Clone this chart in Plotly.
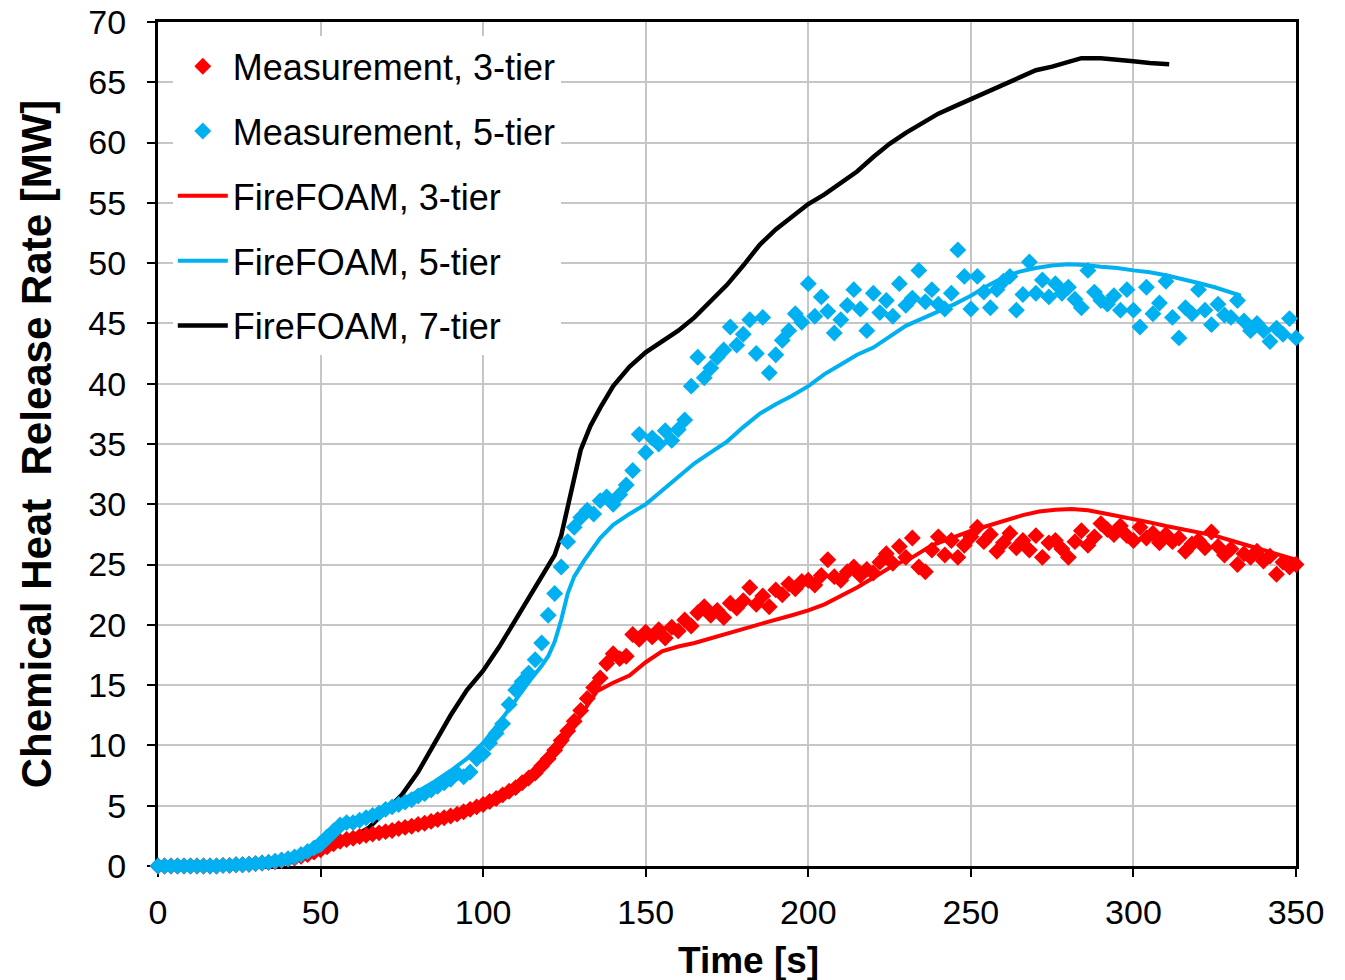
import plotly.graph_objects as go

# ---- measured chemical heat release rate (sampled every 2 s) ----
meas_time = list(range(0, 351, 2))

meas_3tier = [
    0, 0, 0, 0, 0, 0, 0, 0, 0, 0,
    0.05, 0.05, 0.1, 0.1, 0.15, 0.2, 0.25, 0.3, 0.35, 0.45,
    0.55, 0.65, 0.8, 0.95, 1.15, 1.35, 1.6, 1.85, 2.05, 2.2,
    2.3, 2.45, 2.55, 2.65, 2.75, 2.85, 2.95, 3.1, 3.2, 3.3,
    3.45, 3.55, 3.7, 3.85, 4.0, 4.15, 4.3, 4.5, 4.7, 4.9,
    5.1, 5.35, 5.6, 5.9, 6.2, 6.5, 6.9, 7.3, 7.7, 8.3,
    8.9, 9.6, 10.4, 11.2, 12.0, 12.9, 13.9, 14.8, 15.6, 16.8,
    17.6, 17.2, 17.4, 19.2, 18.8, 19.4, 19.0, 19.6, 18.9, 19.8,
    19.5, 20.4, 19.9, 21.0, 21.5, 20.8, 21.2, 20.6, 21.8, 21.4,
    22.0, 23.1, 21.7, 22.4, 21.5, 22.9, 22.5, 23.4, 23.0, 23.6,
    23.7, 23.3, 24.1, 25.4, 24.0, 23.7, 24.4, 24.8, 24.1, 24.6,
    24.3, 25.2, 25.9, 25.1, 26.5, 25.6, 27.2, 24.8, 24.4, 26.2,
    27.3, 25.8, 27.0, 25.6, 26.6, 27.3, 28.1, 26.9, 27.5, 26.1,
    26.8, 27.6, 26.4, 27.0, 26.2, 27.4, 25.6, 26.8, 27.0, 26.3,
    25.6, 26.9, 27.8, 26.6, 27.3, 28.4, 27.9, 27.5, 28.2, 27.4,
    27.0, 28.1, 27.2, 27.6, 26.8, 27.5, 26.9, 27.2, 26.1, 26.7,
    27.0, 26.4, 27.7, 26.5, 25.8, 26.3, 25.0, 25.9, 25.6, 26.1,
    25.3, 25.7, 24.2, 25.2, 24.8, 25.0,
]

meas_5tier = [
    0, 0, 0, 0, 0, 0, 0, 0, 0, 0,
    0.05, 0.05, 0.1, 0.1, 0.15, 0.2, 0.25, 0.3, 0.4, 0.5,
    0.6, 0.75, 0.95, 1.2, 1.5, 1.9, 2.4, 2.9, 3.4, 3.6,
    3.6, 3.8, 4.0, 4.2, 4.4, 4.7, 4.9, 5.1, 5.3, 5.5,
    5.8, 6.0, 6.3, 6.6, 6.9, 7.2, 7.7, 7.4, 7.8, 8.9,
    9.3, 10.2, 11.0, 11.8, 13.4, 14.6, 15.3, 16.0, 17.1, 18.5,
    20.8, 22.6, 24.8, 26.9, 28.1, 28.9, 29.5, 29.2, 30.3, 30.6,
    30.0, 30.8, 31.6, 32.8, 35.8, 34.3, 35.5, 35.0, 36.1, 35.3,
    36.2, 37.0, 39.8, 42.2, 40.5, 41.3, 42.2, 42.8, 44.7, 43.2,
    44.1, 45.3, 42.5, 45.5, 40.9, 42.4, 43.6, 44.4, 45.8, 45.1,
    48.3, 45.6, 47.2, 46.0, 44.2, 45.3, 46.5, 47.8, 46.2, 44.4,
    47.5, 45.9, 46.9, 45.6, 48.3, 46.5, 47.1, 49.4, 46.8, 47.8,
    46.6, 46.2, 47.5, 51.1, 48.9, 46.2, 48.9, 47.6, 46.3, 47.8,
    48.5, 48.9, 46.1, 47.4, 50.1, 47.5, 48.6, 47.2, 48.3, 47.5,
    48.0, 47.0, 46.3, 49.4, 47.6, 46.9, 46.6, 47.3, 46.1, 47.8,
    46.1, 44.7, 48.0, 45.8, 46.7, 48.5, 45.5, 43.8, 46.3, 45.8,
    47.8, 46.1, 44.9, 46.6, 45.7, 45.5, 46.9, 45.2, 44.4, 45.0,
    44.4, 43.5, 44.6, 44.1, 45.4, 43.8,
]

# ---- FireFOAM predictions ----
ff3_time = [0, 10, 20, 30, 40, 45, 50, 55, 60, 65, 70, 75, 80, 85, 90, 95,
            100, 105, 110, 115, 120, 125, 130, 135, 140, 145, 150, 155, 160,
            165, 170, 175, 180, 187, 195, 200, 205, 210, 215, 220, 226, 232,
            238, 245, 250, 255, 261, 266, 271, 276, 281, 286, 292, 296, 300,
            305, 310, 315, 320, 325, 330, 335, 340, 345, 350]
ff3_hrr = [0, 0, 0.05, 0.15, 0.45, 0.7, 1.1, 1.8, 2.4, 2.8, 3.1, 3.4, 3.7,
           4.0, 4.25, 4.5, 4.8, 5.4, 6.2, 7.2, 8.5, 10.2, 12.5, 14.5, 15.2,
           15.8, 16.9, 17.8, 18.2, 18.5, 18.9, 19.3, 19.7, 20.2, 20.8, 21.2,
           21.7, 22.4, 23.1, 23.9, 24.9, 25.6, 26.6, 27.3, 27.8, 28.2, 28.7,
           29.1, 29.4, 29.55, 29.6, 29.5, 29.2, 29.0, 28.8, 28.5, 28.2, 27.95,
           27.7, 27.4, 27.0, 26.6, 26.2, 25.8, 25.4]

ff5_time = [0, 20, 30, 40, 45, 50, 55, 58, 62, 66, 70, 75, 80, 85, 90, 95,
            100, 105, 110, 115, 118, 120, 122, 124, 126, 128, 131, 136, 140,
            145, 150, 155, 160, 165, 170, 175, 180, 185, 190, 195, 200, 205,
            210, 215, 220, 225, 230, 235, 240, 245, 250, 255, 260, 265, 270,
            275, 280, 285, 290, 295, 300, 305, 310, 315, 320, 325, 330, 333]
ff5_hrr = [0, 0.05, 0.15, 0.5, 0.8, 1.3, 2.6, 3.4, 3.9, 4.3, 4.8, 5.5, 6.2,
           7.0, 7.9, 8.9, 10.2, 11.9, 13.8, 15.6, 16.6, 17.4, 18.6, 20.4,
           22.6, 24.0, 25.3, 27.2, 28.3, 29.2, 30.0, 31.1, 32.3, 33.4, 34.3,
           35.2, 36.4, 37.5, 38.3, 39.0, 39.8, 40.8, 41.6, 42.4, 43.0, 43.9,
           44.8, 45.4, 46.0, 46.6, 47.3, 48.1, 48.8, 49.3, 49.6, 49.8, 49.9,
           49.85, 49.7, 49.6, 49.4, 49.25, 49.0, 48.7, 48.35, 48.0, 47.6, 47.3]

ff7_time = [0, 20, 30, 40, 45, 50, 55, 60, 65, 70, 75, 80, 85, 90, 95, 100,
            105, 110, 115, 120, 122, 124, 126, 128, 130, 133, 136, 140, 145,
            150, 155, 160, 165, 170, 175, 180, 185, 190, 195, 200, 205, 210,
            215, 220, 225, 230, 235, 240, 245, 250, 255, 260, 265, 270, 275,
            280, 284, 290, 295, 300, 305, 311]
ff7_hrr = [0, 0.05, 0.15, 0.5, 0.75, 1.1, 1.7, 2.4, 3.2, 4.6, 5.9, 7.8, 10.1,
           12.5, 14.6, 16.2, 18.2, 20.4, 22.6, 24.8, 25.8, 27.4, 29.8, 32.5,
           34.5, 36.5, 38.0, 39.8, 41.4, 42.6, 43.5, 44.4, 45.5, 46.8, 48.2,
           49.8, 51.5, 52.8, 53.9, 54.9, 55.7, 56.6, 57.6, 58.8, 59.9, 60.8,
           61.6, 62.4, 63.0, 63.6, 64.2, 64.8, 65.5, 66.0, 66.3, 66.7, 67.0,
           67.0, 66.9, 66.75, 66.6, 66.5]

RED = "#ff0000"
BLUE = "#00b0f0"
BLACK = "#000000"
FONT = "Liberation Sans, Arial, sans-serif"

fig = go.Figure()

fig.add_trace(go.Scatter(
    x=ff7_time, y=ff7_hrr, mode="lines", name="FireFOAM, 7-tier",
    line=dict(color=BLACK, width=4.5), legendrank=5, legendgroup="f7"))
fig.add_trace(go.Scatter(
    x=meas_time, y=meas_3tier, mode="markers", name="Measurement, 3-tier",
    marker=dict(symbol="diamond", size=13, color=RED, line=dict(width=0)),
    cliponaxis=False, legendrank=1, legendgroup="m3"))
fig.add_trace(go.Scatter(
    x=ff3_time, y=ff3_hrr, mode="lines", name="FireFOAM, 3-tier",
    line=dict(color=RED, width=4), legendrank=3, legendgroup="f3"))
fig.add_trace(go.Scatter(
    x=meas_time, y=meas_5tier, mode="markers", name="Measurement, 5-tier",
    marker=dict(symbol="diamond", size=13, color=BLUE, line=dict(width=0)),
    cliponaxis=False, legendrank=2, legendgroup="m5"))
fig.add_trace(go.Scatter(
    x=ff5_time, y=ff5_hrr, mode="lines", name="FireFOAM, 5-tier",
    line=dict(color=BLUE, width=4), legendrank=4, legendgroup="f5"))

axis_common = dict(
    showline=True, linecolor=BLACK, linewidth=3, mirror=True,
    ticks="outside", ticklen=8, tickwidth=2, tickcolor=BLACK,
    showgrid=True, gridcolor="#c6c6c6", gridwidth=2,
    zeroline=False, layer="below traces", automargin=False,
    tickfont=dict(family=FONT, size=34, color=BLACK),
)

fig.update_xaxes(range=[0, 350], dtick=50, tick0=0, ticklabelstandoff=6,
                 **axis_common)
fig.update_yaxes(
    range=[0, 70], dtick=5, tick0=0, ticklabelstandoff=14,
    title=dict(text="<b>Chemical Heat  Release Rate [MW]</b>", standoff=24,
               font=dict(family=FONT, size=42, color=BLACK)),
    **axis_common)

# x-axis title, set slightly right of the plot centre
fig.add_annotation(
    text="<b>Time [s]</b>", xref="paper", yref="paper",
    x=0.519, y=-0.112, xanchor="center", yanchor="middle", showarrow=False,
    font=dict(family=FONT, size=37, color=BLACK))

fig.update_layout(
    width=1345, height=980,
    margin=dict(l=158, r=49, t=22, b=114),
    paper_bgcolor="white", plot_bgcolor="white",
    font=dict(family=FONT, color=BLACK),
    showlegend=True,
    legend=dict(
        x=0.013, y=0.983, xanchor="left", yanchor="top",
        bgcolor="white", borderwidth=0,
        font=dict(family=FONT, size=36, color=BLACK),
        itemwidth=50, tracegroupgap=15,
        traceorder="grouped",
    ),
)

fig.write_html("out.html")
